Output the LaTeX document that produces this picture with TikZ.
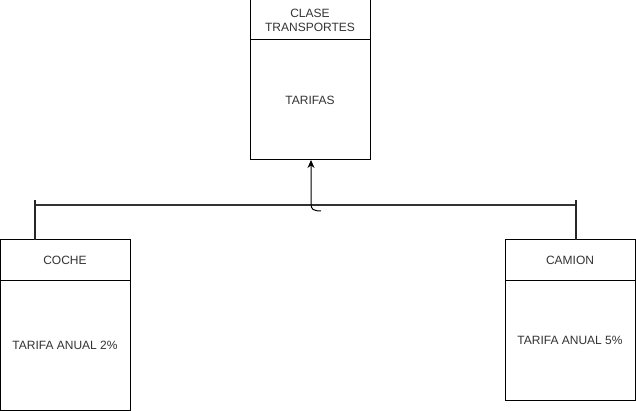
\documentclass[tikz,border=0pt]{standalone}
\usepackage{fontspec}
\setmainfont{Liberation Sans}
\usetikzlibrary{arrows.meta}
\begin{document}
\begin{tikzpicture}[x=1pt,y=-1pt,
  box/.style={draw=black,line width=1pt,fill=white,inner sep=0pt,outer sep=0pt,
    font=\fontsize{12}{14}\selectfont,text=black!80,align=center},
  bar/.style={draw=black!80,line width=2pt},
  tick/.style={draw=black!85,line width=1.6pt}]
\useasboundingbox (0,0) rectangle (636,411);
% top class
\node[box,minimum width=120pt,minimum height=40pt] (toph) at (310,20) {CLASE\\TRANSPORTES};
\node[box,minimum width=120pt,minimum height=120pt] (topb) at (310,100) {TARIFAS};
% coche
\node[box,minimum width=130pt,minimum height=40pt] (cocheh) at (65,260) {COCHE};
\node[box,minimum width=130pt,minimum height=130pt] (cocheb) at (65,345) {TARIFA ANUAL 2\%};
% camion
\node[box,minimum width=130pt,minimum height=40pt] (camionh) at (570,260) {CAMION};
\node[box,minimum width=130pt,minimum height=120pt] (camionb) at (570,340) {TARIFA ANUAL 5\%};
% connectors
\coordinate (cl) at (35,205);
\coordinate (cr) at (576,205);
\coordinate (clt) at (35,200);
\coordinate (crt) at (576,200);
\coordinate (curl) at (321,211);
\coordinate (up) at (311,204);
\draw[bar] (cl) -- (cr);
\draw[tick] (clt) -- (cocheh.north -| clt);
\draw[tick] (crt) -- (camionh.north -| crt);
\draw[line width=1pt,-{Stealth[length=8pt,width=7pt]}] (curl) .. controls (313,211) and (311,209) .. (up) -- (topb.south -| up);
\end{tikzpicture}
\end{document}
